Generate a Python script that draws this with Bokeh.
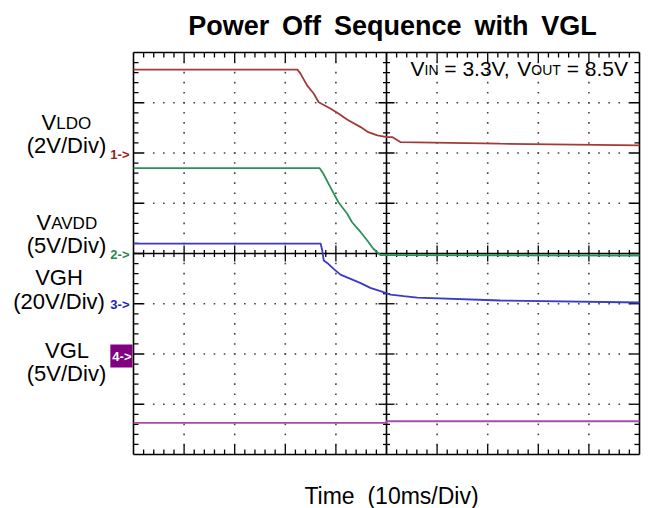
import numpy as np
from bokeh.plotting import figure
from bokeh.models import Range1d, Label
from bokeh.embed import file_html
from bokeh.resources import INLINE

# ---------------- data (time in ms, values in volts) ----------------
time_ldo = [-50, -17.6, -17.0, -15.7, -14.4, -13.4, -11.1, -9.5, -7.8, -5.1, -3.6, -1.8, 0.1, 1.2, 2.8, 22.5, 50]
volt_ldo = [3.32, 3.32, 3.16, 2.69, 2.37, 2.02, 1.77, 1.57, 1.33, 1.03, 0.83, 0.70, 0.63, 0.63, 0.43, 0.37, 0.30]

time_avdd = [-50, -13.2, -12.5, -11.1, -9.5, -7.8, -6.8, -5.1, -3.8, -2.6, -1.6, -1.2, 50]
volt_avdd = [8.49, 8.49, 7.96, 6.60, 5.10, 3.98, 3.11, 2.12, 1.29, 0.47, 0.03, -0.15, -0.2]

time_vgh = [-50, -13.0, -12.7, -12.4, -11.5, -10.5, -9.1, -7.1, -5.1, -3.2, -1.2, 0.8, 3.4, 6.1, 22.5, 50]
volt_vgh = [23.9, 23.9, 21.2, 17.2, 15.9, 14.0, 11.6, 9.9, 8.2, 6.3, 5.0, 3.6, 3.0, 2.4, 1.3, 0.5]

time_vgl = [-50, 0, 0, 50]
volt_vgl = [-6.85, -6.85, -6.69, -6.69]

channel_names = ["VLDO", "VAVDD", "VGH", "VGL"]
volts_per_div = [2, 5, 20, 5]
offset_div = [2, 0, -1, -2]
trace_colors = ["#A33A3A", "#2E8F5A", "#3A3AC4", "#A64BAA"]
marker_colors = ["#9B1C1C", "#1F8A4C", "#2424B4", "#800080"]
marker_texts = ["1->", "2->", "3->", "4->"]

title_text = "Power \u2009Off \u2009Sequence \u2009with \u2009VGL"
xlabel_text = "Time\u00a0\u00a0(10ms/Div)"

# ---------------- layout ----------------
W, H = 652, 508
L, R, T, B = 133, 13, 52, 54          # scope screen position inside the canvas
FW, FH = W - L - R, H - T - B
FONT = "Liberation Sans"
px_x = FW / 100.0     # pixels per ms
px_y = FH / 8.0       # pixels per division


def fx(px):
    return (px - L) / px_x - 50


def fy(py):
    return 4 - (py - T) / px_y


p = figure(width=W, height=H, x_range=Range1d(fx(0), fx(W)), y_range=Range1d(fy(H), fy(0)),
           x_axis_type=None, y_axis_type=None, output_backend="svg",
           toolbar_location=None, min_border_left=0, min_border_right=0,
           min_border_top=0, min_border_bottom=0)
p.outline_line_color = None
p.background_fill_color = "white"
p.border_fill_color = "white"

# dotted graticule
gx_major = [v for v in range(-40, 41, 10) if v != 0]
gy_major = [v for v in range(-3, 4) if v != 0]
y_minor = np.round(np.arange(-3.8, 3.81, 0.2), 3)
x_minor = np.arange(-48, 48.1, 2.0)
dx, dy = [], []
for gx in gx_major:
    for yy in y_minor:
        dx.append(gx); dy.append(yy)
for gy in gy_major:
    for xx in x_minor:
        dx.append(xx); dy.append(gy)
p.scatter(dx, dy, marker="square", size=1.6, fill_color="#444444", line_color=None)

# ticks: centre cross and the four edges
x0s, x1s, y0s, y1s = [], [], [], []
for xx in x_minor:
    major = abs(xx) % 10 < 1e-9
    if abs(xx) > 1e-9:
        h = (8 if major else 3.5) / px_y
        x0s += [xx]; x1s += [xx]; y0s += [-h]; y1s += [h]
    e = (10 if major else 5) / px_y
    x0s += [xx, xx]; x1s += [xx, xx]; y0s += [-4, 4]; y1s += [-4 + e, 4 - e]
for yy in y_minor:
    major = abs(yy - round(yy)) < 1e-9
    if abs(yy) > 1e-9:
        h = (8 if major else 3.5) / px_x
        x0s += [-h]; x1s += [h]; y0s += [yy]; y1s += [yy]
    e = (10 if major else 5) / px_x
    x0s += [-50, 50]; x1s += [-50 + e, 50 - e]; y0s += [yy, yy]; y1s += [yy, yy]
p.segment(x0s, y0s, x1s, y1s, line_color="black", line_width=1.3)

# centre lines and frame
p.segment([-50, 0], [0, -4], [50, 0], [0, 4], line_color="black", line_width=1.6)
p.segment([-50, 50, -50, -50], [-4, -4, -4, 4], [-50, 50, 50, 50], [4, 4, -4, 4],
          line_color="black", line_width=1.6)

# traces
series_t = [time_ldo, time_avdd, time_vgh, time_vgl]
series_v = [volt_ldo, volt_avdd, volt_vgh, volt_vgl]
for t, v, s, o, c in zip(series_t, series_v, volts_per_div, offset_div, trace_colors):
    p.line(t, np.array(v) / s + o, line_color=c, line_width=1.8)

BASE_SHIFT = 8   # correction so that the alphabetic baseline lands on the wanted pixel row


def lab(text, px, py, size, align="left", color="black", bold=False,
        baseline="alphabetic", x_offset=0, **kw):
    if baseline == "alphabetic":
        py = py - BASE_SHIFT
    lb = Label(x=fx(px), y=fy(py), text=text, text_font=FONT, text_font_size=f"{size}px",
               text_align=align, text_baseline=baseline, text_color=color,
               text_font_style="bold" if bold else "normal", x_offset=x_offset, **kw)
    p.add_layout(lb)
    return lb


# title and x label
lab(title_text, 392, 33, 27, align="center", bold=True)
lab(xlabel_text, 391, 503, 23, align="center")

# condition annotation (with subscripts)
ax0 = 410
lab("V", ax0, 76, 21)
lab("IN", ax0, 77, 14, x_offset=14.0)
lab("= 3.3V,", ax0, 76, 21, x_offset=33.8)
lab("V", ax0, 76, 21, x_offset=106.8)
lab("OUT", ax0, 77, 14, x_offset=120.8)
lab("= 8.5V", ax0, 76, 21, x_offset=156.2)

# channel labels on the left
lab("V", 41, 130, 22)
lab("LDO", 41, 131, 17, x_offset=14.7)
lab("(2V/Div)", 66, 153, 22, align="center")
lab("V", 36, 230, 22)
lab("AVDD", 36, 231, 17, x_offset=14.7)
lab("(5V/Div)", 66, 253, 22, align="center")
lab("VGH", 58.5, 285, 22, align="center")
lab("(20V/Div)", 58.5, 309, 22, align="center")
lab("VGL", 66.5, 358, 22, align="center")
lab("(5V/Div)", 66, 381, 22, align="center")

# channel ground markers
for i, (txt, col, off) in enumerate(zip(marker_texts, marker_colors, offset_div)):
    py = T + (4 - off) * px_y
    if i < 3:
        lab(txt, 129, py + 1, 13, align="right", color=col, baseline="middle", bold=True)
    else:
        lab(txt, 132, py + 2, 13, align="right", color="white", baseline="middle", bold=True,
            background_fill_color=col,
            padding=dict(left=2, right=1, top=4, bottom=4))

open("out.html", "w").write(file_html(p, INLINE))
